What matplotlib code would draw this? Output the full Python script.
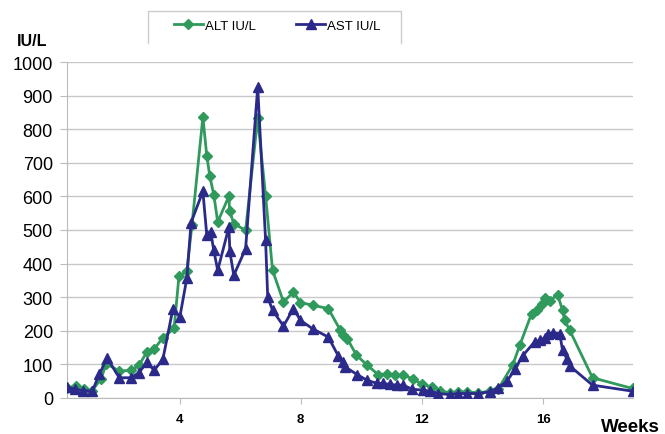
import matplotlib.pyplot as plt
from matplotlib.lines import Line2D

# weeks and IU/L values
ast_weeks = [0.30, 0.56, 0.82, 1.12, 1.35, 1.61, 2.01, 2.40, 2.66, 2.93, 3.16, 3.45, 3.78,
             4.01, 4.24, 4.38, 4.77, 4.90, 5.03, 5.13, 5.26, 5.63, 5.66, 5.79, 6.18, 6.58,
             6.84, 6.91, 7.07, 7.43, 7.76, 7.99, 8.39, 8.91, 9.24, 9.38, 9.47, 9.87, 10.20,
             10.53, 10.72, 10.95, 11.18, 11.38, 11.68, 12.04, 12.27, 12.53, 12.93, 13.19,
             13.49, 13.85, 14.24, 14.51, 14.80, 15.07, 15.32, 15.72, 15.89, 16.05, 16.15,
             16.32, 16.55, 16.64, 16.78, 16.88, 17.63, 18.95]
ast_vals = [33, 25, 22, 20, 70, 119, 60, 60, 75, 107, 82, 115, 265,
            241, 356, 522, 615, 484, 494, 439, 380, 509, 436, 365, 444, 926,
            469, 300, 261, 214, 266, 231, 206, 181, 125, 107, 92, 69, 52,
            43, 43, 40, 38, 38, 26, 23, 20, 13, 10, 13,
            13, 13, 18, 30, 49, 85, 125, 167, 171, 179, 191,
            194, 191, 142, 117, 95, 38, 20]

alt_weeks = [0.30, 0.59, 0.86, 1.12, 1.41, 1.58, 2.01, 2.40, 2.66, 2.93, 3.16, 3.45, 3.82,
             3.98, 4.24, 4.41, 4.77, 4.90, 5.00, 5.13, 5.26, 5.63, 5.65, 5.79, 6.18, 6.58,
             6.84, 7.07, 7.43, 7.76, 7.99, 8.39, 8.91, 9.31, 9.41, 9.54, 9.84, 10.20, 10.56,
             10.86, 11.12, 11.38, 11.71, 12.01, 12.34, 12.60, 12.93, 13.19, 13.49, 13.85,
             14.24, 14.51, 15.00, 15.23, 15.62, 15.79, 15.95, 16.05, 16.22, 16.48, 16.64,
             16.71, 16.88, 17.63, 18.95]
alt_vals = [30, 35, 25, 22, 57, 102, 80, 82, 97, 138, 145, 179, 207,
            362, 378, 515, 836, 720, 660, 605, 524, 601, 558, 519, 499, 833,
            601, 380, 286, 315, 284, 276, 266, 201, 188, 176, 127, 97, 69,
            72, 69, 67, 57, 40, 33, 20, 15, 18, 18, 15,
            20, 25, 99, 157, 251, 261, 281, 296, 290, 307, 261,
            231, 201, 60, 28]

week_ticks = [4, 8, 12, 16]

alt_color = '#2f9a5c'
ast_color = '#2b2a8a'
font = 'Liberation Sans'

fig = plt.figure(figsize=(6.65, 4.35), dpi=100)
ax = fig.add_axes([0.1005, 0.083, 0.852, 0.772])

ax.plot(alt_weeks, alt_vals, color=alt_color, lw=2, marker='D', markersize=5.5, zorder=3)
ax.plot(ast_weeks, ast_vals, color=ast_color, lw=2, marker='^', markersize=7, zorder=4)

ax.set_xlim(0.28, 18.98)
ax.set_ylim(0, 1000)
ax.set_yticks(range(0, 1001, 100))
ax.set_xticks(week_ticks)
ax.set_xticklabels([str(w) for w in week_ticks], fontsize=9.5, fontweight='bold')
ax.tick_params(axis='y', labelsize=13, length=5, color='#bbbbbb', pad=5)
ax.tick_params(axis='x', length=4, color='#bbbbbb', pad=7)
for lbl in ax.get_yticklabels() + ax.get_xticklabels():
    lbl.set_family(font)

ax.grid(axis='y', color='#c8c8c8', lw=1)
ax.set_axisbelow(True)
ax.spines['top'].set_visible(False)
ax.spines['right'].set_visible(False)
ax.spines['left'].set_color('#bbbbbb')
ax.spines['bottom'].set_color('#bbbbbb')

fig.text(0.026, 0.895, 'IU/L', fontsize=11.5, fontweight='bold', family=font)
fig.text(0.904, 0.006, 'Weeks', fontsize=13.5, fontweight='bold', family=font)

# legend box: open at the bottom, like the original
fig.add_artist(Line2D([0.2226, 0.2226, 0.603, 0.603], [0.9, 0.972, 0.972, 0.9],
                      transform=fig.transFigure, color='#cccccc', lw=1))
legend_elements = [Line2D([0], [0], color=alt_color, lw=2, marker='D', markersize=5.5, label='ALT IU/L'),
                   Line2D([0], [0], color=ast_color, lw=2, marker='^', markersize=7, label='AST IU/L')]
fig.legend(handles=legend_elements, ncol=2, loc='center left', bbox_to_anchor=(0.261, 0.938),
           frameon=False, handlelength=2.2, columnspacing=3.1, handletextpad=0.15,
           borderpad=0, borderaxespad=0, prop={'family': font, 'size': 9.5})

fig.savefig('out.png', dpi=100)
